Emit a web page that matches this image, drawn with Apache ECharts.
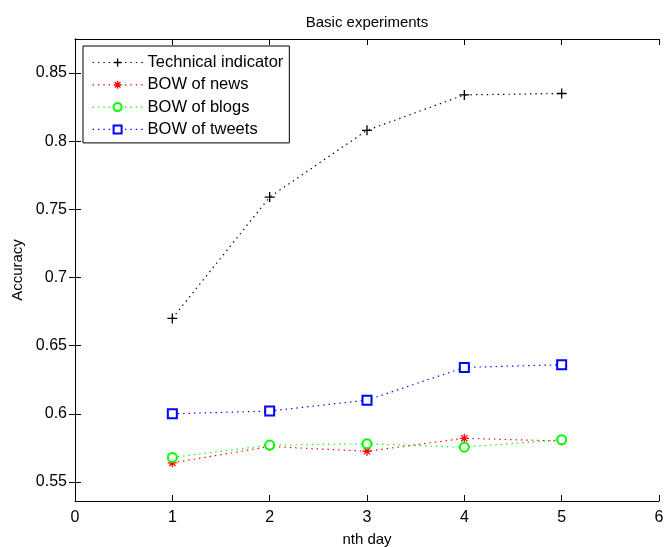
<!DOCTYPE html>
<html>
<head>
<meta charset="utf-8">
<script src="https://cdn.jsdelivr.net/npm/echarts@6/dist/echarts.min.js"></script>
<style>
  html, body { margin: 0; padding: 0; background: #fff; }
  #chart { width: 664px; height: 547px; }
</style>
</head>
<body>
<div id="chart"></div>
<script>
  // values
  var days = [1, 2, 3, 4, 5];
  var technical = [0.670, 0.759, 0.808, 0.834, 0.835];
  var bowNews = [0.564, 0.576, 0.5725, 0.582, 0.580];
  var bowBlogs = [0.568, 0.577, 0.578, 0.5755, 0.581];
  var bowTweets = [0.600, 0.602, 0.610, 0.634, 0.636];
  var yTicks = [0.55, 0.6, 0.65, 0.7, 0.75, 0.8, 0.85];
  var names = ['Technical indicator', 'BOW of news', 'BOW of blogs', 'BOW of tweets'];
  var colors = ['#000000', '#ff0000', '#00ff00', '#0000ff'];

  function pairs(ys) {
    return days.map(function (d, i) { return [d, ys[i]]; });
  }

  var font = 'Liberation Sans, Arial, sans-serif';
  var plus = 'path://M5,0L5,10M0,5L10,5';
  var star = 'path://M5,0L5,10M0,5L10,5M1.5,1.5L8.5,8.5M8.5,1.5L1.5,8.5';
  var symbols = [plus, star, 'emptyCircle', 'emptyRect'];
  var sizes = [10, 9, 9, 9];
  var dots = [1.4, 4];

  function styleFor(i) {
    var isPath = symbols[i].indexOf('path://') === 0;
    return {
      color: isPath ? 'none' : colors[i],
      borderColor: colors[i],
      borderWidth: 1.3
    };
  }

  function mkSeries(i, ys) {
    return {
      name: names[i],
      type: 'line',
      data: pairs(ys),
      symbol: symbols[i],
      symbolSize: sizes[i],
      showAllSymbol: true,
      lineStyle: { color: colors[i], width: 1.2, type: dots },
      itemStyle: styleFor(i),
      emphasis: { disabled: true }
    };
  }

  var chart = echarts.init(document.getElementById('chart'));
  chart.setOption({
    animation: false,
    backgroundColor: '#fff',
    title: {
      text: 'Basic experiments',
      left: 362,
      textAlign: 'center',
      top: 10,
      textStyle: { fontFamily: font, fontSize: 15, fontWeight: 'normal', color: '#000' }
    },
    legend: {
      orient: 'vertical',
      left: 83,
      top: 46,
      padding: [8, 6, 5, 9],
      itemWidth: 50,
      itemHeight: 10,
      itemGap: 5.3,
      backgroundColor: '#fff',
      borderColor: '#000',
      borderWidth: 1,
      textStyle: { fontFamily: font, fontSize: 16.5, color: '#000' },
      data: names.map(function (n, i) {
        return {
          name: n,
          itemStyle: styleFor(i),
          lineStyle: { color: colors[i], width: 1.2, type: dots }
        };
      })
    },
    grid: { left: 75, right: 5, top: 39, bottom: 46, outerBoundsMode: 'none' },
    xAxis: [{
      type: 'value',
      min: 0, max: 6, interval: 1,
      name: 'nth day',
      nameLocation: 'middle',
      nameGap: 31,
      nameTextStyle: { fontFamily: font, fontSize: 15, color: '#000' },
      axisLine: { lineStyle: { color: '#000', width: 1 } },
      axisTick: { inside: true, length: 6, lineStyle: { color: '#000' } },
      axisLabel: { fontFamily: font, fontSize: 16, color: '#000', margin: 9 },
      splitLine: { show: false }
    }, {
      type: 'value',
      position: 'top',
      min: 0, max: 6, interval: 1,
      axisLine: { show: true, lineStyle: { color: '#000', width: 1 } },
      axisTick: { inside: true, length: 6, lineStyle: { color: '#000' } },
      axisLabel: { show: false },
      splitLine: { show: false }
    }],
    yAxis: [{
      type: 'value',
      min: 0.536, max: 0.875,
      name: 'Accuracy',
      nameLocation: 'middle',
      nameGap: 48,
      nameTextStyle: { fontFamily: font, fontSize: 15, color: '#000' },
      axisLine: { show: true, lineStyle: { color: '#000', width: 1 } },
      axisTick: { inside: true, length: 6, customValues: yTicks, lineStyle: { color: '#000' } },
      axisLabel: { fontFamily: font, fontSize: 16, color: '#000', margin: 8, customValues: yTicks },
      splitLine: { show: false }
    }, {
      type: 'value',
      position: 'right',
      min: 0.536, max: 0.875,
      axisLine: { show: true, lineStyle: { color: '#000', width: 1 } },
      axisTick: { inside: true, length: 6, customValues: yTicks, lineStyle: { color: '#000' } },
      axisLabel: { show: false, customValues: yTicks },
      splitLine: { show: false }
    }],
    series: [
      mkSeries(0, technical),
      mkSeries(1, bowNews),
      mkSeries(2, bowBlogs),
      mkSeries(3, bowTweets)
    ]
  });
</script>
</body>
</html>
